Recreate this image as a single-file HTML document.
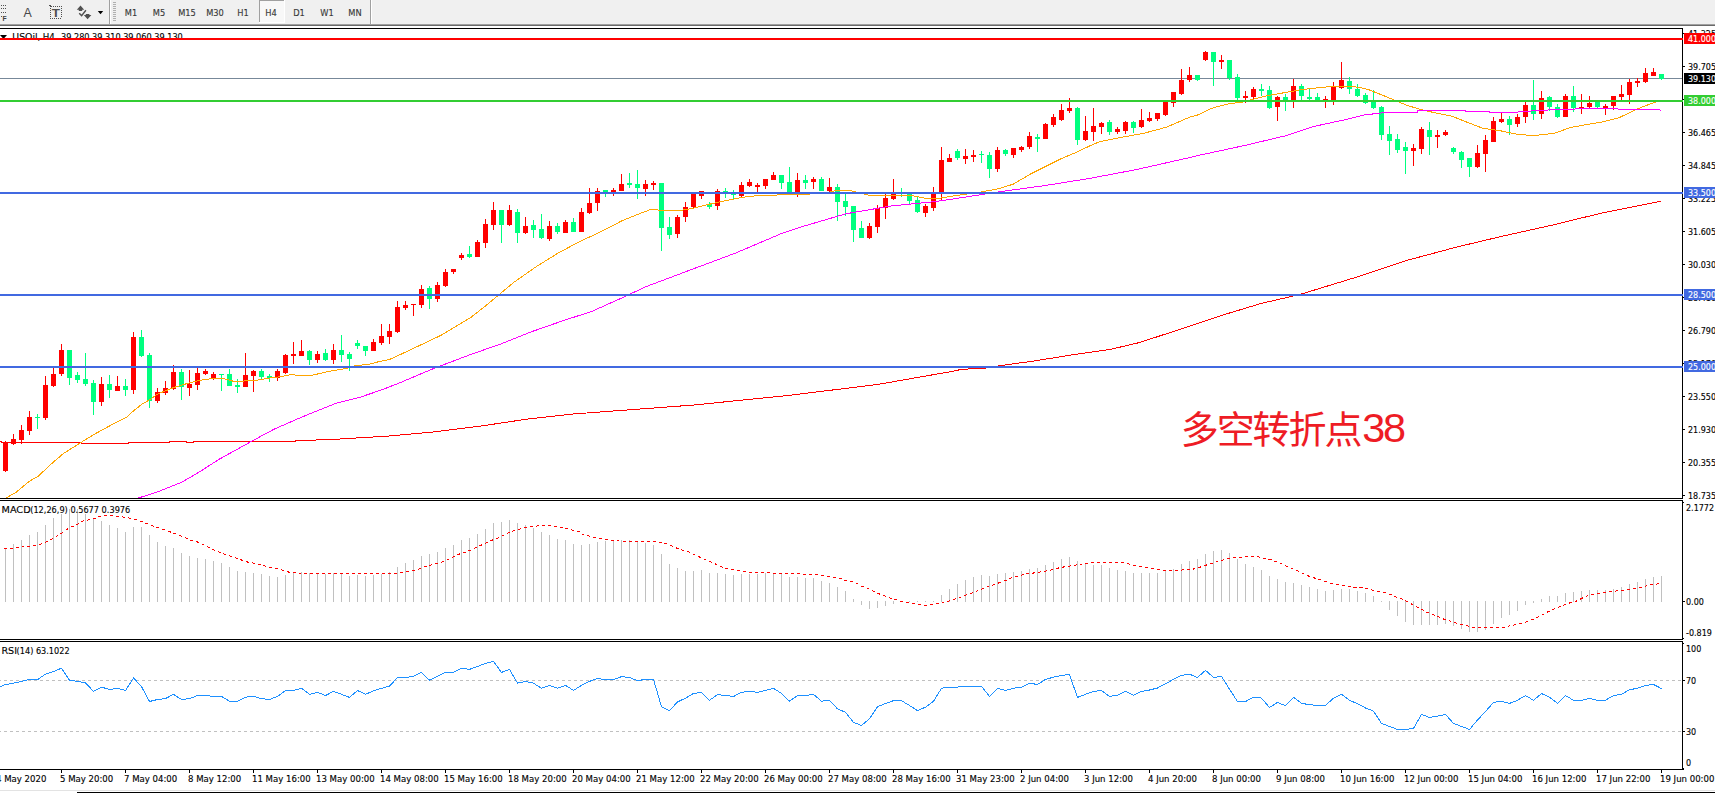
<!DOCTYPE html>
<html lang="zh">
<head>
<meta charset="utf-8">
<title>USOil H4</title>
<style>
html,body{margin:0;padding:0;background:#fff;}
body{width:1715px;height:793px;overflow:hidden;position:relative;font-family:"Liberation Sans","Noto Sans CJK SC",sans-serif;}
svg{position:absolute;left:0;top:0;display:block;}
svg text{font-family:"DejaVu Sans Condensed","DejaVu Sans","Liberation Sans",sans-serif;font-stretch:condensed;white-space:pre;}
</style>
</head>
<body>
<svg width="1715" height="793" viewBox="0 0 1715 793">
<rect x="0" y="0" width="1715" height="793" fill="#ffffff"/>
<g id="toolbar">
<rect x="0" y="0" width="1715" height="24" fill="#f0f0f0"/>
<rect x="0" y="24" width="1715" height="1" fill="#a0a0a0"/>
<rect x="0" y="25" width="1715" height="1" fill="#696969"/>
<rect x="1" y="5" width="1" height="1" fill="#505050"/>
<rect x="3" y="5" width="1" height="1" fill="#505050"/>
<rect x="5" y="5" width="1" height="1" fill="#505050"/>
<rect x="1" y="8" width="1" height="1" fill="#505050"/>
<rect x="3" y="8" width="1" height="1" fill="#505050"/>
<rect x="5" y="8" width="1" height="1" fill="#505050"/>
<rect x="1" y="12" width="1" height="1" fill="#505050"/>
<rect x="3" y="12" width="1" height="1" fill="#505050"/>
<rect x="5" y="12" width="1" height="1" fill="#505050"/>
<rect x="1" y="16" width="1" height="1" fill="#505050"/>
<text x="2.5" y="20.9" font-size="6.8" fill="#404040" text-anchor="start" font-weight="bold" style="font-family:'Liberation Sans',sans-serif">F</text>
<text x="23.4" y="16.8" font-size="12.4" fill="#484848" text-anchor="start" style="font-family:'Liberation Sans',sans-serif">A</text>
<rect x="53" y="6" width="1" height="1" fill="#505050"/>
<rect x="55" y="6" width="1" height="1" fill="#505050"/>
<rect x="57" y="6" width="1" height="1" fill="#505050"/>
<rect x="59" y="6" width="1" height="1" fill="#505050"/>
<rect x="61" y="6" width="1" height="1" fill="#505050"/>
<rect x="50" y="18" width="1" height="1" fill="#505050"/>
<rect x="52" y="18" width="1" height="1" fill="#505050"/>
<rect x="54" y="18" width="1" height="1" fill="#505050"/>
<rect x="56" y="18" width="1" height="1" fill="#505050"/>
<rect x="58" y="18" width="1" height="1" fill="#505050"/>
<rect x="60" y="18" width="1" height="1" fill="#505050"/>
<rect x="50" y="8" width="1" height="1" fill="#505050"/>
<rect x="61" y="8" width="1" height="1" fill="#505050"/>
<rect x="50" y="10" width="1" height="1" fill="#505050"/>
<rect x="61" y="10" width="1" height="1" fill="#505050"/>
<rect x="50" y="12" width="1" height="1" fill="#505050"/>
<rect x="61" y="12" width="1" height="1" fill="#505050"/>
<rect x="50" y="14" width="1" height="1" fill="#505050"/>
<rect x="61" y="14" width="1" height="1" fill="#505050"/>
<rect x="50" y="16" width="1" height="1" fill="#505050"/>
<rect x="61" y="16" width="1" height="1" fill="#505050"/>
<rect x="49" y="5" width="2" height="1" fill="#505050"/>
<rect x="50" y="6" width="2" height="1" fill="#505050"/>
<text transform="translate(51.8 17) scale(1.2 1)" font-size="11.2" fill="#505050" text-anchor="start" font-weight="bold" style="font-family:'Liberation Sans',sans-serif">T</text>
<path d="M80.5 5.6 L84.2 9.8 L82.2 9.8 L82.2 11 L78.8 11 L78.8 9.8 L76.8 9.8 Z" fill="#505050"/>
<path d="M87.6 19.2 L91.4 15 L89.4 15 L89.4 14 L85.8 14 L85.8 15 L83.8 15 Z" fill="#505050"/>
<path d="M79.2 13.3 L81.6 15.6 L85.9 10.2" fill="none" stroke="#505050" stroke-width="1.4"/>
<path d="M97.8 11 L103.2 11 L100.5 14.3 Z" fill="#000"/>
<rect x="109" y="0" width="1" height="24" fill="#a0a0a0"/>
<rect x="110" y="0" width="1" height="24" fill="#ffffff"/>
<rect x="113" y="2" width="3" height="1" fill="#b0b0b0"/>
<rect x="113" y="4" width="3" height="1" fill="#b0b0b0"/>
<rect x="113" y="6" width="3" height="1" fill="#b0b0b0"/>
<rect x="113" y="8" width="3" height="1" fill="#b0b0b0"/>
<rect x="113" y="10" width="3" height="1" fill="#b0b0b0"/>
<rect x="113" y="12" width="3" height="1" fill="#b0b0b0"/>
<rect x="113" y="14" width="3" height="1" fill="#b0b0b0"/>
<rect x="113" y="16" width="3" height="1" fill="#b0b0b0"/>
<rect x="113" y="18" width="3" height="1" fill="#b0b0b0"/>
<rect x="113" y="20" width="3" height="1" fill="#b0b0b0"/>
<rect x="259" y="0" width="25" height="22" fill="#f8f8f8"/>
<rect x="259" y="0" width="25" height="1" fill="#a0a0a0"/>
<rect x="259" y="0" width="1" height="22" fill="#a0a0a0"/>
<rect x="284" y="0" width="1" height="23" fill="#ffffff"/>
<rect x="259" y="22" width="26" height="1" fill="#ffffff"/>
<text x="131" y="16" font-size="9.2" fill="#383838" text-anchor="middle" stroke="#383838" stroke-width="0.12">M1</text>
<text x="159" y="16" font-size="9.2" fill="#383838" text-anchor="middle" stroke="#383838" stroke-width="0.12">M5</text>
<text x="187" y="16" font-size="9.2" fill="#383838" text-anchor="middle" stroke="#383838" stroke-width="0.12">M15</text>
<text x="215" y="16" font-size="9.2" fill="#383838" text-anchor="middle" stroke="#383838" stroke-width="0.12">M30</text>
<text x="243" y="16" font-size="9.2" fill="#383838" text-anchor="middle" stroke="#383838" stroke-width="0.12">H1</text>
<text x="271" y="16" font-size="9.2" fill="#383838" text-anchor="middle" stroke="#383838" stroke-width="0.12">H4</text>
<text x="299" y="16" font-size="9.2" fill="#383838" text-anchor="middle" stroke="#383838" stroke-width="0.12">D1</text>
<text x="327" y="16" font-size="9.2" fill="#383838" text-anchor="middle" stroke="#383838" stroke-width="0.12">W1</text>
<text x="355" y="16" font-size="9.2" fill="#383838" text-anchor="middle" stroke="#383838" stroke-width="0.12">MN</text>
<rect x="370" y="0" width="1" height="24" fill="#a0a0a0"/>
<rect x="371" y="0" width="1" height="24" fill="#ffffff"/>
</g>
<g id="frames" shape-rendering="crispEdges">
<rect x="0" y="28" width="1683" height="1" fill="#000"/>
<rect x="0" y="498" width="1683" height="1" fill="#000"/>
<rect x="0" y="500" width="1683" height="1" fill="#000"/>
<rect x="0" y="639" width="1683" height="1" fill="#000"/>
<rect x="0" y="641" width="1683" height="1" fill="#000"/>
<rect x="0" y="769" width="1684" height="1" fill="#000"/>
<rect x="1682" y="28" width="1" height="471" fill="#000"/>
<rect x="1682" y="500" width="1" height="140" fill="#000"/>
<rect x="1682" y="641" width="1" height="129" fill="#000"/>
</g>
<path d="M0 35 L7 35 L3.5 39 Z" fill="#000"/>
<text transform="translate(12.3 40) scale(1.13 1)" font-size="9.2" fill="#000" text-anchor="start" stroke="#000" stroke-width="0.12">USOil,</text>
<text transform="translate(42.7 40) scale(1.05 1)" font-size="9.2" fill="#000" text-anchor="start" stroke="#000" stroke-width="0.12">H4</text>
<text transform="translate(61 40) scale(0.985 1)" font-size="9.2" fill="#000" text-anchor="start" stroke="#000" stroke-width="0.12">39.280 39.310 39.060 39.130</text>
<g id="main" shape-rendering="crispEdges">
<rect x="0" y="78" width="1682" height="1" fill="#778899"/>
<rect x="5" y="441" width="1" height="31" fill="#ff0000"/>
<rect x="3" y="442" width="5" height="29" fill="#ff0000"/>
<rect x="13" y="434" width="1" height="11" fill="#ff0000"/>
<rect x="11" y="439" width="5" height="5" fill="#ff0000"/>
<rect x="21" y="425" width="1" height="19" fill="#ff0000"/>
<rect x="19" y="430" width="5" height="10" fill="#ff0000"/>
<rect x="29" y="411" width="1" height="24" fill="#ff0000"/>
<rect x="27" y="417" width="5" height="14" fill="#ff0000"/>
<rect x="37" y="414" width="1" height="15" fill="#00ff7f"/>
<rect x="35" y="417" width="5" height="1" fill="#00ff7f"/>
<rect x="45" y="376" width="1" height="44" fill="#ff0000"/>
<rect x="43" y="385" width="5" height="33" fill="#ff0000"/>
<rect x="53" y="368" width="1" height="19" fill="#ff0000"/>
<rect x="51" y="374" width="5" height="12" fill="#ff0000"/>
<rect x="61" y="344" width="1" height="32" fill="#ff0000"/>
<rect x="59" y="350" width="5" height="24" fill="#ff0000"/>
<rect x="69" y="350" width="1" height="35" fill="#00ff7f"/>
<rect x="67" y="350" width="5" height="28" fill="#00ff7f"/>
<rect x="77" y="372" width="1" height="11" fill="#00ff7f"/>
<rect x="75" y="375" width="5" height="5" fill="#00ff7f"/>
<rect x="85" y="353" width="1" height="33" fill="#00ff7f"/>
<rect x="83" y="379" width="5" height="5" fill="#00ff7f"/>
<rect x="93" y="380" width="1" height="35" fill="#00ff7f"/>
<rect x="91" y="383" width="5" height="19" fill="#00ff7f"/>
<rect x="101" y="377" width="1" height="29" fill="#ff0000"/>
<rect x="99" y="384" width="5" height="18" fill="#ff0000"/>
<rect x="109" y="375" width="1" height="23" fill="#00ff7f"/>
<rect x="107" y="384" width="5" height="6" fill="#00ff7f"/>
<rect x="117" y="376" width="1" height="15" fill="#ff0000"/>
<rect x="115" y="386" width="5" height="5" fill="#ff0000"/>
<rect x="125" y="379" width="1" height="17" fill="#00ff7f"/>
<rect x="123" y="386" width="5" height="4" fill="#00ff7f"/>
<rect x="133" y="332" width="1" height="62" fill="#ff0000"/>
<rect x="131" y="337" width="5" height="53" fill="#ff0000"/>
<rect x="141" y="330" width="1" height="27" fill="#00ff7f"/>
<rect x="139" y="337" width="5" height="19" fill="#00ff7f"/>
<rect x="149" y="353" width="1" height="55" fill="#00ff7f"/>
<rect x="147" y="355" width="5" height="46" fill="#00ff7f"/>
<rect x="157" y="388" width="1" height="15" fill="#ff0000"/>
<rect x="155" y="392" width="5" height="9" fill="#ff0000"/>
<rect x="165" y="381" width="1" height="14" fill="#ff0000"/>
<rect x="163" y="388" width="5" height="5" fill="#ff0000"/>
<rect x="173" y="365" width="1" height="25" fill="#ff0000"/>
<rect x="171" y="372" width="5" height="17" fill="#ff0000"/>
<rect x="181" y="369" width="1" height="31" fill="#00ff7f"/>
<rect x="179" y="372" width="5" height="15" fill="#00ff7f"/>
<rect x="189" y="370" width="1" height="26" fill="#ff0000"/>
<rect x="187" y="384" width="5" height="4" fill="#ff0000"/>
<rect x="197" y="368" width="1" height="22" fill="#ff0000"/>
<rect x="195" y="373" width="5" height="12" fill="#ff0000"/>
<rect x="205" y="369" width="1" height="6" fill="#ff0000"/>
<rect x="203" y="371" width="5" height="3" fill="#ff0000"/>
<rect x="213" y="372" width="1" height="8" fill="#ff0000"/>
<rect x="211" y="374" width="5" height="4" fill="#ff0000"/>
<rect x="221" y="374" width="1" height="17" fill="#00ff7f"/>
<rect x="219" y="374" width="5" height="1" fill="#00ff7f"/>
<rect x="229" y="369" width="1" height="17" fill="#00ff7f"/>
<rect x="227" y="374" width="5" height="12" fill="#00ff7f"/>
<rect x="237" y="379" width="1" height="14" fill="#00ff7f"/>
<rect x="235" y="385" width="5" height="2" fill="#00ff7f"/>
<rect x="245" y="353" width="1" height="34" fill="#ff0000"/>
<rect x="243" y="375" width="5" height="12" fill="#ff0000"/>
<rect x="253" y="370" width="1" height="22" fill="#ff0000"/>
<rect x="251" y="371" width="5" height="5" fill="#ff0000"/>
<rect x="261" y="369" width="1" height="10" fill="#00ff7f"/>
<rect x="259" y="371" width="5" height="6" fill="#00ff7f"/>
<rect x="269" y="374" width="1" height="8" fill="#00ff7f"/>
<rect x="267" y="376" width="5" height="2" fill="#00ff7f"/>
<rect x="277" y="369" width="1" height="12" fill="#ff0000"/>
<rect x="275" y="371" width="5" height="7" fill="#ff0000"/>
<rect x="285" y="354" width="1" height="20" fill="#ff0000"/>
<rect x="283" y="355" width="5" height="18" fill="#ff0000"/>
<rect x="293" y="342" width="1" height="22" fill="#ff0000"/>
<rect x="291" y="354" width="5" height="2" fill="#ff0000"/>
<rect x="301" y="340" width="1" height="16" fill="#ff0000"/>
<rect x="299" y="351" width="5" height="5" fill="#ff0000"/>
<rect x="309" y="350" width="1" height="15" fill="#00ff7f"/>
<rect x="307" y="351" width="5" height="9" fill="#00ff7f"/>
<rect x="317" y="351" width="1" height="12" fill="#ff0000"/>
<rect x="315" y="354" width="5" height="6" fill="#ff0000"/>
<rect x="325" y="349" width="1" height="12" fill="#00ff7f"/>
<rect x="323" y="353" width="5" height="7" fill="#00ff7f"/>
<rect x="333" y="344" width="1" height="20" fill="#ff0000"/>
<rect x="331" y="350" width="5" height="10" fill="#ff0000"/>
<rect x="341" y="335" width="1" height="27" fill="#00ff7f"/>
<rect x="339" y="350" width="5" height="5" fill="#00ff7f"/>
<rect x="349" y="352" width="1" height="19" fill="#00ff7f"/>
<rect x="347" y="354" width="5" height="5" fill="#00ff7f"/>
<rect x="357" y="340" width="1" height="9" fill="#00ff7f"/>
<rect x="355" y="343" width="5" height="3" fill="#00ff7f"/>
<rect x="365" y="346" width="1" height="10" fill="#00ff7f"/>
<rect x="363" y="346" width="5" height="5" fill="#00ff7f"/>
<rect x="373" y="339" width="1" height="12" fill="#ff0000"/>
<rect x="371" y="342" width="5" height="9" fill="#ff0000"/>
<rect x="381" y="324" width="1" height="21" fill="#ff0000"/>
<rect x="379" y="336" width="5" height="7" fill="#ff0000"/>
<rect x="389" y="324" width="1" height="20" fill="#ff0000"/>
<rect x="387" y="331" width="5" height="6" fill="#ff0000"/>
<rect x="397" y="301" width="1" height="32" fill="#ff0000"/>
<rect x="395" y="307" width="5" height="25" fill="#ff0000"/>
<rect x="405" y="301" width="1" height="9" fill="#ff0000"/>
<rect x="403" y="305" width="5" height="3" fill="#ff0000"/>
<rect x="413" y="304" width="1" height="12" fill="#ff0000"/>
<rect x="411" y="304" width="5" height="1" fill="#ff0000"/>
<rect x="421" y="285" width="1" height="23" fill="#ff0000"/>
<rect x="419" y="289" width="5" height="16" fill="#ff0000"/>
<rect x="429" y="286" width="1" height="23" fill="#00ff7f"/>
<rect x="427" y="288" width="5" height="11" fill="#00ff7f"/>
<rect x="437" y="282" width="1" height="20" fill="#ff0000"/>
<rect x="435" y="285" width="5" height="14" fill="#ff0000"/>
<rect x="445" y="269" width="1" height="18" fill="#ff0000"/>
<rect x="443" y="272" width="5" height="14" fill="#ff0000"/>
<rect x="453" y="269" width="1" height="5" fill="#ff0000"/>
<rect x="451" y="269" width="5" height="3" fill="#ff0000"/>
<rect x="461" y="253" width="1" height="7" fill="#ff0000"/>
<rect x="459" y="255" width="5" height="3" fill="#ff0000"/>
<rect x="469" y="246" width="1" height="12" fill="#00ff7f"/>
<rect x="467" y="254" width="5" height="3" fill="#00ff7f"/>
<rect x="477" y="240" width="1" height="17" fill="#ff0000"/>
<rect x="475" y="242" width="5" height="15" fill="#ff0000"/>
<rect x="485" y="219" width="1" height="29" fill="#ff0000"/>
<rect x="483" y="224" width="5" height="19" fill="#ff0000"/>
<rect x="493" y="202" width="1" height="28" fill="#ff0000"/>
<rect x="491" y="210" width="5" height="15" fill="#ff0000"/>
<rect x="501" y="210" width="1" height="33" fill="#00ff7f"/>
<rect x="499" y="210" width="5" height="15" fill="#00ff7f"/>
<rect x="509" y="205" width="1" height="21" fill="#ff0000"/>
<rect x="507" y="210" width="5" height="15" fill="#ff0000"/>
<rect x="517" y="209" width="1" height="34" fill="#00ff7f"/>
<rect x="515" y="212" width="5" height="21" fill="#00ff7f"/>
<rect x="525" y="217" width="1" height="17" fill="#ff0000"/>
<rect x="523" y="226" width="5" height="7" fill="#ff0000"/>
<rect x="533" y="220" width="1" height="18" fill="#00ff7f"/>
<rect x="531" y="225" width="5" height="5" fill="#00ff7f"/>
<rect x="541" y="214" width="1" height="25" fill="#00ff7f"/>
<rect x="539" y="229" width="5" height="9" fill="#00ff7f"/>
<rect x="549" y="221" width="1" height="20" fill="#ff0000"/>
<rect x="547" y="226" width="5" height="13" fill="#ff0000"/>
<rect x="557" y="223" width="1" height="11" fill="#00ff7f"/>
<rect x="555" y="226" width="5" height="6" fill="#00ff7f"/>
<rect x="565" y="220" width="1" height="13" fill="#ff0000"/>
<rect x="563" y="222" width="5" height="11" fill="#ff0000"/>
<rect x="573" y="218" width="1" height="14" fill="#00ff7f"/>
<rect x="571" y="222" width="5" height="10" fill="#00ff7f"/>
<rect x="581" y="208" width="1" height="24" fill="#ff0000"/>
<rect x="579" y="212" width="5" height="20" fill="#ff0000"/>
<rect x="589" y="188" width="1" height="26" fill="#ff0000"/>
<rect x="587" y="203" width="5" height="10" fill="#ff0000"/>
<rect x="597" y="188" width="1" height="23" fill="#ff0000"/>
<rect x="595" y="191" width="5" height="12" fill="#ff0000"/>
<rect x="605" y="190" width="1" height="7" fill="#00ff7f"/>
<rect x="603" y="190" width="5" height="3" fill="#00ff7f"/>
<rect x="613" y="188" width="1" height="8" fill="#ff0000"/>
<rect x="611" y="190" width="5" height="3" fill="#ff0000"/>
<rect x="621" y="174" width="1" height="17" fill="#ff0000"/>
<rect x="619" y="184" width="5" height="7" fill="#ff0000"/>
<rect x="629" y="173" width="1" height="15" fill="#00ff7f"/>
<rect x="627" y="183" width="5" height="2" fill="#00ff7f"/>
<rect x="637" y="170" width="1" height="29" fill="#00ff7f"/>
<rect x="635" y="184" width="5" height="4" fill="#00ff7f"/>
<rect x="645" y="180" width="1" height="16" fill="#ff0000"/>
<rect x="643" y="184" width="5" height="5" fill="#ff0000"/>
<rect x="653" y="181" width="1" height="9" fill="#ff0000"/>
<rect x="651" y="183" width="5" height="2" fill="#ff0000"/>
<rect x="661" y="183" width="1" height="68" fill="#00ff7f"/>
<rect x="659" y="183" width="5" height="45" fill="#00ff7f"/>
<rect x="669" y="217" width="1" height="22" fill="#00ff7f"/>
<rect x="667" y="227" width="5" height="8" fill="#00ff7f"/>
<rect x="677" y="215" width="1" height="23" fill="#ff0000"/>
<rect x="675" y="217" width="5" height="17" fill="#ff0000"/>
<rect x="685" y="202" width="1" height="20" fill="#ff0000"/>
<rect x="683" y="207" width="5" height="10" fill="#ff0000"/>
<rect x="693" y="193" width="1" height="16" fill="#ff0000"/>
<rect x="691" y="193" width="5" height="14" fill="#ff0000"/>
<rect x="701" y="191" width="1" height="8" fill="#ff0000"/>
<rect x="699" y="191" width="5" height="5" fill="#ff0000"/>
<rect x="709" y="202" width="1" height="7" fill="#00ff7f"/>
<rect x="707" y="204" width="5" height="3" fill="#00ff7f"/>
<rect x="717" y="189" width="1" height="21" fill="#ff0000"/>
<rect x="715" y="191" width="5" height="15" fill="#ff0000"/>
<rect x="725" y="188" width="1" height="10" fill="#00ff7f"/>
<rect x="723" y="191" width="5" height="2" fill="#00ff7f"/>
<rect x="733" y="190" width="1" height="9" fill="#00ff7f"/>
<rect x="731" y="193" width="5" height="2" fill="#00ff7f"/>
<rect x="741" y="182" width="1" height="15" fill="#ff0000"/>
<rect x="739" y="185" width="5" height="11" fill="#ff0000"/>
<rect x="749" y="179" width="1" height="8" fill="#ff0000"/>
<rect x="747" y="182" width="5" height="4" fill="#ff0000"/>
<rect x="757" y="183" width="1" height="9" fill="#ff0000"/>
<rect x="755" y="185" width="5" height="2" fill="#ff0000"/>
<rect x="765" y="179" width="1" height="10" fill="#ff0000"/>
<rect x="763" y="179" width="5" height="7" fill="#ff0000"/>
<rect x="773" y="172" width="1" height="8" fill="#ff0000"/>
<rect x="771" y="175" width="5" height="5" fill="#ff0000"/>
<rect x="781" y="175" width="1" height="14" fill="#00ff7f"/>
<rect x="779" y="175" width="5" height="8" fill="#00ff7f"/>
<rect x="789" y="167" width="1" height="26" fill="#00ff7f"/>
<rect x="787" y="182" width="5" height="11" fill="#00ff7f"/>
<rect x="797" y="173" width="1" height="24" fill="#ff0000"/>
<rect x="795" y="180" width="5" height="13" fill="#ff0000"/>
<rect x="805" y="175" width="1" height="14" fill="#00ff7f"/>
<rect x="803" y="180" width="5" height="3" fill="#00ff7f"/>
<rect x="813" y="177" width="1" height="12" fill="#ff0000"/>
<rect x="811" y="179" width="5" height="3" fill="#ff0000"/>
<rect x="821" y="177" width="1" height="14" fill="#00ff7f"/>
<rect x="819" y="179" width="5" height="12" fill="#00ff7f"/>
<rect x="829" y="178" width="1" height="14" fill="#ff0000"/>
<rect x="827" y="187" width="5" height="4" fill="#ff0000"/>
<rect x="837" y="184" width="1" height="37" fill="#00ff7f"/>
<rect x="835" y="187" width="5" height="15" fill="#00ff7f"/>
<rect x="845" y="194" width="1" height="22" fill="#00ff7f"/>
<rect x="843" y="201" width="5" height="6" fill="#00ff7f"/>
<rect x="853" y="206" width="1" height="36" fill="#00ff7f"/>
<rect x="851" y="206" width="5" height="24" fill="#00ff7f"/>
<rect x="861" y="221" width="1" height="17" fill="#00ff7f"/>
<rect x="859" y="228" width="5" height="10" fill="#00ff7f"/>
<rect x="869" y="223" width="1" height="16" fill="#ff0000"/>
<rect x="867" y="226" width="5" height="12" fill="#ff0000"/>
<rect x="877" y="205" width="1" height="28" fill="#ff0000"/>
<rect x="875" y="208" width="5" height="19" fill="#ff0000"/>
<rect x="885" y="194" width="1" height="25" fill="#ff0000"/>
<rect x="883" y="198" width="5" height="10" fill="#ff0000"/>
<rect x="893" y="179" width="1" height="21" fill="#ff0000"/>
<rect x="891" y="193" width="5" height="6" fill="#ff0000"/>
<rect x="901" y="188" width="1" height="9" fill="#00ff7f"/>
<rect x="899" y="193" width="5" height="1" fill="#00ff7f"/>
<rect x="909" y="194" width="1" height="10" fill="#00ff7f"/>
<rect x="907" y="194" width="5" height="7" fill="#00ff7f"/>
<rect x="917" y="196" width="1" height="17" fill="#00ff7f"/>
<rect x="915" y="200" width="5" height="12" fill="#00ff7f"/>
<rect x="925" y="204" width="1" height="13" fill="#ff0000"/>
<rect x="923" y="206" width="5" height="7" fill="#ff0000"/>
<rect x="933" y="187" width="1" height="24" fill="#ff0000"/>
<rect x="931" y="193" width="5" height="15" fill="#ff0000"/>
<rect x="941" y="147" width="1" height="54" fill="#ff0000"/>
<rect x="939" y="160" width="5" height="34" fill="#ff0000"/>
<rect x="949" y="154" width="1" height="8" fill="#ff0000"/>
<rect x="947" y="158" width="5" height="4" fill="#ff0000"/>
<rect x="957" y="149" width="1" height="11" fill="#00ff7f"/>
<rect x="955" y="151" width="5" height="7" fill="#00ff7f"/>
<rect x="965" y="149" width="1" height="15" fill="#ff0000"/>
<rect x="963" y="156" width="5" height="3" fill="#ff0000"/>
<rect x="973" y="150" width="1" height="12" fill="#ff0000"/>
<rect x="971" y="155" width="5" height="2" fill="#ff0000"/>
<rect x="981" y="151" width="1" height="12" fill="#00ff7f"/>
<rect x="979" y="154" width="5" height="1" fill="#00ff7f"/>
<rect x="989" y="152" width="1" height="26" fill="#00ff7f"/>
<rect x="987" y="155" width="5" height="14" fill="#00ff7f"/>
<rect x="997" y="147" width="1" height="25" fill="#ff0000"/>
<rect x="995" y="150" width="5" height="19" fill="#ff0000"/>
<rect x="1005" y="149" width="1" height="7" fill="#00ff7f"/>
<rect x="1003" y="150" width="5" height="4" fill="#00ff7f"/>
<rect x="1013" y="148" width="1" height="10" fill="#ff0000"/>
<rect x="1011" y="148" width="5" height="7" fill="#ff0000"/>
<rect x="1021" y="146" width="1" height="6" fill="#ff0000"/>
<rect x="1019" y="147" width="5" height="3" fill="#ff0000"/>
<rect x="1029" y="132" width="1" height="17" fill="#ff0000"/>
<rect x="1027" y="136" width="5" height="11" fill="#ff0000"/>
<rect x="1037" y="134" width="1" height="18" fill="#00ff7f"/>
<rect x="1035" y="137" width="5" height="2" fill="#00ff7f"/>
<rect x="1045" y="123" width="1" height="16" fill="#ff0000"/>
<rect x="1043" y="124" width="5" height="15" fill="#ff0000"/>
<rect x="1053" y="114" width="1" height="13" fill="#ff0000"/>
<rect x="1051" y="117" width="5" height="8" fill="#ff0000"/>
<rect x="1061" y="104" width="1" height="17" fill="#ff0000"/>
<rect x="1059" y="110" width="5" height="10" fill="#ff0000"/>
<rect x="1069" y="98" width="1" height="15" fill="#ff0000"/>
<rect x="1067" y="108" width="5" height="3" fill="#ff0000"/>
<rect x="1077" y="107" width="1" height="38" fill="#00ff7f"/>
<rect x="1075" y="108" width="5" height="32" fill="#00ff7f"/>
<rect x="1085" y="116" width="1" height="25" fill="#ff0000"/>
<rect x="1083" y="131" width="5" height="9" fill="#ff0000"/>
<rect x="1093" y="108" width="1" height="33" fill="#ff0000"/>
<rect x="1091" y="126" width="5" height="6" fill="#ff0000"/>
<rect x="1101" y="122" width="1" height="12" fill="#ff0000"/>
<rect x="1099" y="123" width="5" height="4" fill="#ff0000"/>
<rect x="1109" y="120" width="1" height="15" fill="#00ff7f"/>
<rect x="1107" y="122" width="5" height="10" fill="#00ff7f"/>
<rect x="1117" y="127" width="1" height="7" fill="#ff0000"/>
<rect x="1115" y="129" width="5" height="3" fill="#ff0000"/>
<rect x="1125" y="121" width="1" height="13" fill="#ff0000"/>
<rect x="1123" y="122" width="5" height="9" fill="#ff0000"/>
<rect x="1133" y="121" width="1" height="12" fill="#00ff7f"/>
<rect x="1131" y="122" width="5" height="6" fill="#00ff7f"/>
<rect x="1141" y="109" width="1" height="19" fill="#ff0000"/>
<rect x="1139" y="120" width="5" height="7" fill="#ff0000"/>
<rect x="1149" y="112" width="1" height="10" fill="#ff0000"/>
<rect x="1147" y="118" width="5" height="3" fill="#ff0000"/>
<rect x="1157" y="113" width="1" height="8" fill="#ff0000"/>
<rect x="1155" y="113" width="5" height="6" fill="#ff0000"/>
<rect x="1165" y="102" width="1" height="14" fill="#ff0000"/>
<rect x="1163" y="102" width="5" height="13" fill="#ff0000"/>
<rect x="1173" y="92" width="1" height="15" fill="#ff0000"/>
<rect x="1171" y="92" width="5" height="11" fill="#ff0000"/>
<rect x="1181" y="69" width="1" height="26" fill="#ff0000"/>
<rect x="1179" y="80" width="5" height="14" fill="#ff0000"/>
<rect x="1189" y="67" width="1" height="15" fill="#ff0000"/>
<rect x="1187" y="75" width="5" height="5" fill="#ff0000"/>
<rect x="1197" y="75" width="1" height="6" fill="#00ff7f"/>
<rect x="1195" y="75" width="5" height="5" fill="#00ff7f"/>
<rect x="1205" y="51" width="1" height="10" fill="#ff0000"/>
<rect x="1203" y="52" width="5" height="8" fill="#ff0000"/>
<rect x="1213" y="52" width="1" height="34" fill="#00ff7f"/>
<rect x="1211" y="52" width="5" height="10" fill="#00ff7f"/>
<rect x="1221" y="55" width="1" height="14" fill="#ff0000"/>
<rect x="1219" y="60" width="5" height="2" fill="#ff0000"/>
<rect x="1229" y="60" width="1" height="20" fill="#00ff7f"/>
<rect x="1227" y="60" width="5" height="18" fill="#00ff7f"/>
<rect x="1237" y="74" width="1" height="26" fill="#00ff7f"/>
<rect x="1235" y="77" width="5" height="21" fill="#00ff7f"/>
<rect x="1245" y="91" width="1" height="12" fill="#ff0000"/>
<rect x="1243" y="96" width="5" height="2" fill="#ff0000"/>
<rect x="1253" y="87" width="1" height="12" fill="#ff0000"/>
<rect x="1251" y="89" width="5" height="8" fill="#ff0000"/>
<rect x="1261" y="84" width="1" height="12" fill="#00ff7f"/>
<rect x="1259" y="89" width="5" height="2" fill="#00ff7f"/>
<rect x="1269" y="86" width="1" height="23" fill="#00ff7f"/>
<rect x="1267" y="90" width="5" height="18" fill="#00ff7f"/>
<rect x="1277" y="96" width="1" height="25" fill="#ff0000"/>
<rect x="1275" y="97" width="5" height="10" fill="#ff0000"/>
<rect x="1285" y="94" width="1" height="17" fill="#00ff7f"/>
<rect x="1283" y="97" width="5" height="4" fill="#00ff7f"/>
<rect x="1293" y="79" width="1" height="29" fill="#ff0000"/>
<rect x="1291" y="86" width="5" height="14" fill="#ff0000"/>
<rect x="1301" y="84" width="1" height="17" fill="#00ff7f"/>
<rect x="1299" y="86" width="5" height="10" fill="#00ff7f"/>
<rect x="1309" y="89" width="1" height="12" fill="#00ff7f"/>
<rect x="1307" y="97" width="5" height="2" fill="#00ff7f"/>
<rect x="1317" y="93" width="1" height="8" fill="#00ff7f"/>
<rect x="1315" y="97" width="5" height="3" fill="#00ff7f"/>
<rect x="1325" y="96" width="1" height="12" fill="#ff0000"/>
<rect x="1323" y="99" width="5" height="1" fill="#ff0000"/>
<rect x="1333" y="82" width="1" height="23" fill="#ff0000"/>
<rect x="1331" y="87" width="5" height="13" fill="#ff0000"/>
<rect x="1341" y="62" width="1" height="27" fill="#ff0000"/>
<rect x="1339" y="80" width="5" height="8" fill="#ff0000"/>
<rect x="1349" y="77" width="1" height="17" fill="#00ff7f"/>
<rect x="1347" y="81" width="5" height="8" fill="#00ff7f"/>
<rect x="1357" y="84" width="1" height="13" fill="#00ff7f"/>
<rect x="1355" y="89" width="5" height="7" fill="#00ff7f"/>
<rect x="1365" y="93" width="1" height="11" fill="#00ff7f"/>
<rect x="1363" y="95" width="5" height="8" fill="#00ff7f"/>
<rect x="1373" y="90" width="1" height="19" fill="#00ff7f"/>
<rect x="1371" y="102" width="5" height="6" fill="#00ff7f"/>
<rect x="1381" y="106" width="1" height="34" fill="#00ff7f"/>
<rect x="1379" y="107" width="5" height="28" fill="#00ff7f"/>
<rect x="1389" y="126" width="1" height="29" fill="#00ff7f"/>
<rect x="1387" y="134" width="5" height="7" fill="#00ff7f"/>
<rect x="1397" y="134" width="1" height="19" fill="#00ff7f"/>
<rect x="1395" y="139" width="5" height="11" fill="#00ff7f"/>
<rect x="1405" y="142" width="1" height="32" fill="#00ff7f"/>
<rect x="1403" y="147" width="5" height="4" fill="#00ff7f"/>
<rect x="1413" y="144" width="1" height="22" fill="#ff0000"/>
<rect x="1411" y="148" width="5" height="3" fill="#ff0000"/>
<rect x="1421" y="127" width="1" height="27" fill="#ff0000"/>
<rect x="1419" y="129" width="5" height="20" fill="#ff0000"/>
<rect x="1429" y="122" width="1" height="33" fill="#00ff7f"/>
<rect x="1427" y="130" width="5" height="7" fill="#00ff7f"/>
<rect x="1437" y="130" width="1" height="18" fill="#ff0000"/>
<rect x="1435" y="135" width="5" height="2" fill="#ff0000"/>
<rect x="1445" y="130" width="1" height="6" fill="#ff0000"/>
<rect x="1443" y="132" width="5" height="3" fill="#ff0000"/>
<rect x="1453" y="147" width="1" height="7" fill="#00ff7f"/>
<rect x="1451" y="148" width="5" height="4" fill="#00ff7f"/>
<rect x="1461" y="151" width="1" height="17" fill="#00ff7f"/>
<rect x="1459" y="152" width="5" height="8" fill="#00ff7f"/>
<rect x="1469" y="158" width="1" height="19" fill="#00ff7f"/>
<rect x="1467" y="158" width="5" height="9" fill="#00ff7f"/>
<rect x="1477" y="145" width="1" height="23" fill="#ff0000"/>
<rect x="1475" y="153" width="5" height="14" fill="#ff0000"/>
<rect x="1485" y="135" width="1" height="37" fill="#ff0000"/>
<rect x="1483" y="140" width="5" height="14" fill="#ff0000"/>
<rect x="1493" y="117" width="1" height="25" fill="#ff0000"/>
<rect x="1491" y="121" width="5" height="21" fill="#ff0000"/>
<rect x="1501" y="113" width="1" height="10" fill="#ff0000"/>
<rect x="1499" y="119" width="5" height="3" fill="#ff0000"/>
<rect x="1509" y="116" width="1" height="19" fill="#00ff7f"/>
<rect x="1507" y="119" width="5" height="6" fill="#00ff7f"/>
<rect x="1517" y="114" width="1" height="13" fill="#ff0000"/>
<rect x="1515" y="117" width="5" height="7" fill="#ff0000"/>
<rect x="1525" y="102" width="1" height="21" fill="#ff0000"/>
<rect x="1523" y="105" width="5" height="12" fill="#ff0000"/>
<rect x="1533" y="80" width="1" height="40" fill="#00ff7f"/>
<rect x="1531" y="105" width="5" height="9" fill="#00ff7f"/>
<rect x="1541" y="91" width="1" height="28" fill="#ff0000"/>
<rect x="1539" y="98" width="5" height="16" fill="#ff0000"/>
<rect x="1549" y="96" width="1" height="15" fill="#00ff7f"/>
<rect x="1547" y="97" width="5" height="10" fill="#00ff7f"/>
<rect x="1557" y="104" width="1" height="14" fill="#00ff7f"/>
<rect x="1555" y="107" width="5" height="10" fill="#00ff7f"/>
<rect x="1565" y="94" width="1" height="23" fill="#ff0000"/>
<rect x="1563" y="96" width="5" height="21" fill="#ff0000"/>
<rect x="1573" y="86" width="1" height="26" fill="#00ff7f"/>
<rect x="1571" y="96" width="5" height="12" fill="#00ff7f"/>
<rect x="1581" y="94" width="1" height="20" fill="#ff0000"/>
<rect x="1579" y="107" width="5" height="1" fill="#ff0000"/>
<rect x="1589" y="96" width="1" height="12" fill="#ff0000"/>
<rect x="1587" y="103" width="5" height="4" fill="#ff0000"/>
<rect x="1597" y="101" width="1" height="7" fill="#00ff7f"/>
<rect x="1595" y="102" width="5" height="5" fill="#00ff7f"/>
<rect x="1605" y="104" width="1" height="11" fill="#ff0000"/>
<rect x="1603" y="106" width="5" height="2" fill="#ff0000"/>
<rect x="1613" y="96" width="1" height="14" fill="#ff0000"/>
<rect x="1611" y="96" width="5" height="10" fill="#ff0000"/>
<rect x="1621" y="85" width="1" height="15" fill="#ff0000"/>
<rect x="1619" y="94" width="5" height="3" fill="#ff0000"/>
<rect x="1629" y="79" width="1" height="25" fill="#ff0000"/>
<rect x="1627" y="82" width="5" height="13" fill="#ff0000"/>
<rect x="1637" y="78" width="1" height="9" fill="#ff0000"/>
<rect x="1635" y="81" width="5" height="2" fill="#ff0000"/>
<rect x="1645" y="68" width="1" height="15" fill="#ff0000"/>
<rect x="1643" y="73" width="5" height="9" fill="#ff0000"/>
<rect x="1653" y="68" width="1" height="8" fill="#ff0000"/>
<rect x="1651" y="72" width="5" height="4" fill="#ff0000"/>
<rect x="1661" y="74" width="1" height="6" fill="#00ff7f"/>
<rect x="1659" y="74" width="5" height="5" fill="#00ff7f"/>
<polyline points="0.0,441.5 1.5,441.5 2.0,442.5 81.5,442.5 82.0,443.5 128.5,443.5 129.0,442.5 169.0,442.5 169.5,441.5 186.0,441.5 186.5,442.5 193.0,442.5 193.5,441.5 295.0,441.5 296.0,440.5 328.3,439.7 386.6,436.2 433.2,432.0 479.9,426.2 526.5,419.2 573.2,414.0 600.0,412.0 692.7,405.1 785.4,395.8 878.1,384.4 954.3,371.0 961.6,369.3 984.5,368.3 1000.8,365.6 1035.9,360.7 1079.0,353.8 1110.0,349.5 1139.7,342.5 1180.0,329.3 1222.0,315.3 1260.6,303.6 1299.8,294.5 1358.6,276.5 1407.6,260.2 1456.5,247.1 1501.5,236.4 1552.2,225.1 1602.9,212.8 1661.0,201.3" fill="none" stroke="#ff0000" stroke-width="1"/>
<polyline points="6.3,497.8 15.8,492.5 30.0,480.8 37.8,476.5 52.0,463.3 63.1,453.8 82.0,441.8 94.6,434.1 110.4,425.5 126.1,417.6 134.0,410.5 141.9,404.2 151.4,398.7 157.7,394.0 173.5,387.6 189.2,382.9 200.0,380.4 211.7,378.5 223.3,378.5 235.0,381.7 240.2,381.7 246.6,380.6 258.3,380.0 270.0,378.0 281.6,376.5 292.1,374.5 299.1,375.7 309.6,375.7 316.6,374.2 328.3,371.5 345.8,368.6 355.1,365.7 369.1,364.3 380.0,361.3 389.1,359.7 410.3,349.9 440.6,335.5 471.0,317.3 486.3,305.3 499.9,293.9 513.5,282.6 536.2,266.7 558.9,252.6 581.6,240.6 600.0,232.2 622.7,220.4 640.0,213.5 651.0,209.4 657.0,209.4 659.0,210.6 680.0,210.6 693.0,208.2 719.0,202.0 737.0,198.4 750.0,196.2 770.0,195.2 800.0,194.4 822.7,193.5 836.3,190.6 850.0,190.6 868.1,195.1 890.8,195.8 909.0,195.1 927.1,198.7 936.2,198.7 954.4,195.8 981.6,191.9 1000.0,188.4 1013.6,184.0 1030.3,174.1 1045.5,166.5 1060.6,158.9 1075.8,152.6 1091.0,145.3 1100.0,141.5 1121.3,137.4 1144.0,133.2 1166.8,127.1 1189.5,117.2 1197.1,115.2 1212.3,108.1 1227.4,104.1 1242.6,102.0 1255.2,98.6 1270.3,95.1 1285.5,92.5 1300.6,89.8 1315.8,88.0 1331.0,86.5 1346.1,86.3 1358.3,87.2 1368.9,89.8 1376.5,92.8 1391.6,98.9 1406.8,105.3 1421.9,109.8 1437.1,113.3 1452.3,116.3 1467.4,122.4 1482.6,128.2 1500.0,130.7 1518.0,134.4 1533.9,135.6 1554.4,133.3 1570.3,127.6 1588.4,124.2 1600.0,122.4 1619.1,117.7 1637.7,108.8 1654.9,102.2 1661.0,100.0" fill="none" stroke="#ffa500" stroke-width="1"/>
<polyline points="138.5,498.0 158.9,491.4 181.6,482.3 200.0,471.6 218.7,459.5 252.5,440.8 273.8,429.3 302.2,416.9 336.2,403.2 358.9,397.6 381.6,389.9 400.0,382.7 434.6,368.1 471.0,354.4 501.3,343.8 531.6,331.7 561.9,321.1 592.3,311.2 622.6,297.6 645.4,286.9 690.8,269.8 736.2,252.8 781.6,233.5 800.0,227.3 845.4,213.9 890.8,206.0 936.2,201.5 981.6,194.6 1000.0,191.7 1045.4,185.5 1090.8,178.2 1136.2,169.6 1181.6,159.4 1200.0,155.1 1245.4,145.3 1286.3,135.6 1313.5,126.5 1347.6,119.2 1363.5,115.1 1381.6,112.9 1417.0,112.9 1417.8,110.9 1465.5,110.9 1466.3,111.7 1489.0,111.7 1490.0,112.6 1513.5,112.4 1536.2,110.6 1558.9,109.5 1581.6,108.8 1617.8,108.4 1618.2,109.5 1658.0,109.5 1661.0,110.4" fill="none" stroke="#ff00ff" stroke-width="1"/>
<rect x="0" y="38" width="1683" height="2" fill="#ff0000"/>
<rect x="0" y="100" width="1683" height="2" fill="#32cd32"/>
<rect x="0" y="192" width="1683" height="2" fill="#4169e1"/>
<rect x="0" y="294" width="1683" height="2" fill="#4169e1"/>
<rect x="0" y="366" width="1683" height="2" fill="#4169e1"/>
</g>
<g id="paxis" shape-rendering="crispEdges">
<rect x="1683" y="33" width="2" height="1" fill="#000"/>
<rect x="1683" y="66" width="2" height="1" fill="#000"/>
<rect x="1683" y="99" width="2" height="1" fill="#000"/>
<rect x="1683" y="132" width="2" height="1" fill="#000"/>
<rect x="1683" y="165" width="2" height="1" fill="#000"/>
<rect x="1683" y="198" width="2" height="1" fill="#000"/>
<rect x="1683" y="231" width="2" height="1" fill="#000"/>
<rect x="1683" y="264" width="2" height="1" fill="#000"/>
<rect x="1683" y="297" width="2" height="1" fill="#000"/>
<rect x="1683" y="330" width="2" height="1" fill="#000"/>
<rect x="1683" y="363" width="2" height="1" fill="#000"/>
<rect x="1683" y="396" width="2" height="1" fill="#000"/>
<rect x="1683" y="429" width="2" height="1" fill="#000"/>
<rect x="1683" y="462" width="2" height="1" fill="#000"/>
<rect x="1683" y="495" width="2" height="1" fill="#000"/>
</g>
<text transform="translate(1688 37) scale(0.97 1)" font-size="9.2" fill="#000" text-anchor="start" stroke="#000" stroke-width="0.12">41.325</text>
<text transform="translate(1688 70) scale(0.97 1)" font-size="9.2" fill="#000" text-anchor="start" stroke="#000" stroke-width="0.12">39.705</text>
<text transform="translate(1688 103) scale(0.97 1)" font-size="9.2" fill="#000" text-anchor="start" stroke="#000" stroke-width="0.12">38.085</text>
<text transform="translate(1688 136) scale(0.97 1)" font-size="9.2" fill="#000" text-anchor="start" stroke="#000" stroke-width="0.12">36.465</text>
<text transform="translate(1688 169) scale(0.97 1)" font-size="9.2" fill="#000" text-anchor="start" stroke="#000" stroke-width="0.12">34.845</text>
<text transform="translate(1688 202) scale(0.97 1)" font-size="9.2" fill="#000" text-anchor="start" stroke="#000" stroke-width="0.12">33.225</text>
<text transform="translate(1688 235) scale(0.97 1)" font-size="9.2" fill="#000" text-anchor="start" stroke="#000" stroke-width="0.12">31.605</text>
<text transform="translate(1688 268) scale(0.97 1)" font-size="9.2" fill="#000" text-anchor="start" stroke="#000" stroke-width="0.12">30.030</text>
<text transform="translate(1688 301) scale(0.97 1)" font-size="9.2" fill="#000" text-anchor="start" stroke="#000" stroke-width="0.12">28.410</text>
<text transform="translate(1688 334) scale(0.97 1)" font-size="9.2" fill="#000" text-anchor="start" stroke="#000" stroke-width="0.12">26.790</text>
<text transform="translate(1688 367) scale(0.97 1)" font-size="9.2" fill="#000" text-anchor="start" stroke="#000" stroke-width="0.12">25.170</text>
<text transform="translate(1688 400) scale(0.97 1)" font-size="9.2" fill="#000" text-anchor="start" stroke="#000" stroke-width="0.12">23.550</text>
<text transform="translate(1688 433) scale(0.97 1)" font-size="9.2" fill="#000" text-anchor="start" stroke="#000" stroke-width="0.12">21.930</text>
<text transform="translate(1688 466) scale(0.97 1)" font-size="9.2" fill="#000" text-anchor="start" stroke="#000" stroke-width="0.12">20.355</text>
<text transform="translate(1688 499) scale(0.97 1)" font-size="9.2" fill="#000" text-anchor="start" stroke="#000" stroke-width="0.12">18.735</text>
<rect x="1684" y="33" width="31" height="11" fill="#ff0000" shape-rendering="crispEdges"/>
<text transform="translate(1688 42) scale(0.97 1)" font-size="9.2" fill="#fff" text-anchor="start" stroke="#fff" stroke-width="0.12">41.000</text>
<rect x="1684" y="73" width="31" height="11" fill="#000" shape-rendering="crispEdges"/>
<text transform="translate(1688 82) scale(0.97 1)" font-size="9.2" fill="#fff" text-anchor="start" stroke="#fff" stroke-width="0.12">39.130</text>
<rect x="1684" y="95" width="31" height="11" fill="#32cd32" shape-rendering="crispEdges"/>
<text transform="translate(1688 104) scale(0.97 1)" font-size="9.2" fill="#fff" text-anchor="start" stroke="#fff" stroke-width="0.12">38.000</text>
<rect x="1684" y="187" width="31" height="11" fill="#4169e1" shape-rendering="crispEdges"/>
<text transform="translate(1688 196) scale(0.97 1)" font-size="9.2" fill="#fff" text-anchor="start" stroke="#fff" stroke-width="0.12">33.500</text>
<rect x="1684" y="289" width="31" height="11" fill="#4169e1" shape-rendering="crispEdges"/>
<text transform="translate(1688 298) scale(0.97 1)" font-size="9.2" fill="#fff" text-anchor="start" stroke="#fff" stroke-width="0.12">28.500</text>
<rect x="1684" y="361" width="31" height="11" fill="#4169e1" shape-rendering="crispEdges"/>
<text transform="translate(1688 370) scale(0.97 1)" font-size="9.2" fill="#fff" text-anchor="start" stroke="#fff" stroke-width="0.12">25.000</text>
<text x="1180.8" y="442.7" font-size="38" fill="#ee1c25" font-weight="400" letter-spacing="-2.1" style="font-family:'Liberation Sans','Noto Sans CJK SC',sans-serif">多空转折点</text>
<text x="1362.2" y="442" font-size="41.4" fill="#ee1c25" letter-spacing="-2.3" style="font-family:'Liberation Sans','Noto Sans CJK SC',sans-serif">38</text>
<g id="macd" shape-rendering="crispEdges">
<rect x="5" y="548" width="1" height="54" fill="#c0c0c0"/>
<rect x="13" y="544" width="1" height="58" fill="#c0c0c0"/>
<rect x="21" y="540" width="1" height="62" fill="#c0c0c0"/>
<rect x="29" y="535" width="1" height="67" fill="#c0c0c0"/>
<rect x="37" y="532" width="1" height="70" fill="#c0c0c0"/>
<rect x="45" y="525" width="1" height="77" fill="#c0c0c0"/>
<rect x="53" y="518" width="1" height="84" fill="#c0c0c0"/>
<rect x="61" y="514" width="1" height="88" fill="#c0c0c0"/>
<rect x="69" y="509" width="1" height="93" fill="#c0c0c0"/>
<rect x="77" y="509" width="1" height="93" fill="#c0c0c0"/>
<rect x="85" y="514" width="1" height="88" fill="#c0c0c0"/>
<rect x="93" y="518" width="1" height="84" fill="#c0c0c0"/>
<rect x="101" y="521" width="1" height="81" fill="#c0c0c0"/>
<rect x="109" y="525" width="1" height="77" fill="#c0c0c0"/>
<rect x="117" y="528" width="1" height="74" fill="#c0c0c0"/>
<rect x="125" y="532" width="1" height="70" fill="#c0c0c0"/>
<rect x="133" y="527" width="1" height="75" fill="#c0c0c0"/>
<rect x="141" y="527" width="1" height="75" fill="#c0c0c0"/>
<rect x="149" y="535" width="1" height="67" fill="#c0c0c0"/>
<rect x="157" y="542" width="1" height="60" fill="#c0c0c0"/>
<rect x="165" y="546" width="1" height="56" fill="#c0c0c0"/>
<rect x="173" y="548" width="1" height="54" fill="#c0c0c0"/>
<rect x="181" y="553" width="1" height="49" fill="#c0c0c0"/>
<rect x="189" y="556" width="1" height="46" fill="#c0c0c0"/>
<rect x="197" y="558" width="1" height="44" fill="#c0c0c0"/>
<rect x="205" y="559" width="1" height="43" fill="#c0c0c0"/>
<rect x="213" y="561" width="1" height="41" fill="#c0c0c0"/>
<rect x="221" y="563" width="1" height="39" fill="#c0c0c0"/>
<rect x="229" y="567" width="1" height="35" fill="#c0c0c0"/>
<rect x="237" y="571" width="1" height="31" fill="#c0c0c0"/>
<rect x="245" y="572" width="1" height="30" fill="#c0c0c0"/>
<rect x="253" y="573" width="1" height="29" fill="#c0c0c0"/>
<rect x="261" y="574" width="1" height="28" fill="#c0c0c0"/>
<rect x="269" y="576" width="1" height="26" fill="#c0c0c0"/>
<rect x="277" y="577" width="1" height="25" fill="#c0c0c0"/>
<rect x="285" y="575" width="1" height="27" fill="#c0c0c0"/>
<rect x="293" y="572" width="1" height="30" fill="#c0c0c0"/>
<rect x="301" y="572" width="1" height="30" fill="#c0c0c0"/>
<rect x="309" y="573" width="1" height="29" fill="#c0c0c0"/>
<rect x="317" y="574" width="1" height="28" fill="#c0c0c0"/>
<rect x="325" y="574" width="1" height="28" fill="#c0c0c0"/>
<rect x="333" y="573" width="1" height="29" fill="#c0c0c0"/>
<rect x="341" y="574" width="1" height="28" fill="#c0c0c0"/>
<rect x="349" y="576" width="1" height="26" fill="#c0c0c0"/>
<rect x="357" y="575" width="1" height="27" fill="#c0c0c0"/>
<rect x="365" y="576" width="1" height="26" fill="#c0c0c0"/>
<rect x="373" y="575" width="1" height="27" fill="#c0c0c0"/>
<rect x="381" y="574" width="1" height="28" fill="#c0c0c0"/>
<rect x="389" y="572" width="1" height="30" fill="#c0c0c0"/>
<rect x="397" y="567" width="1" height="35" fill="#c0c0c0"/>
<rect x="405" y="563" width="1" height="39" fill="#c0c0c0"/>
<rect x="413" y="560" width="1" height="42" fill="#c0c0c0"/>
<rect x="421" y="556" width="1" height="46" fill="#c0c0c0"/>
<rect x="429" y="554" width="1" height="48" fill="#c0c0c0"/>
<rect x="437" y="552" width="1" height="50" fill="#c0c0c0"/>
<rect x="445" y="548" width="1" height="54" fill="#c0c0c0"/>
<rect x="453" y="545" width="1" height="57" fill="#c0c0c0"/>
<rect x="461" y="540" width="1" height="62" fill="#c0c0c0"/>
<rect x="469" y="538" width="1" height="64" fill="#c0c0c0"/>
<rect x="477" y="534" width="1" height="68" fill="#c0c0c0"/>
<rect x="485" y="529" width="1" height="73" fill="#c0c0c0"/>
<rect x="493" y="523" width="1" height="79" fill="#c0c0c0"/>
<rect x="501" y="522" width="1" height="80" fill="#c0c0c0"/>
<rect x="509" y="520" width="1" height="82" fill="#c0c0c0"/>
<rect x="517" y="523" width="1" height="79" fill="#c0c0c0"/>
<rect x="525" y="525" width="1" height="77" fill="#c0c0c0"/>
<rect x="533" y="528" width="1" height="74" fill="#c0c0c0"/>
<rect x="541" y="532" width="1" height="70" fill="#c0c0c0"/>
<rect x="549" y="535" width="1" height="67" fill="#c0c0c0"/>
<rect x="557" y="539" width="1" height="63" fill="#c0c0c0"/>
<rect x="565" y="540" width="1" height="62" fill="#c0c0c0"/>
<rect x="573" y="544" width="1" height="58" fill="#c0c0c0"/>
<rect x="581" y="545" width="1" height="57" fill="#c0c0c0"/>
<rect x="589" y="544" width="1" height="58" fill="#c0c0c0"/>
<rect x="597" y="542" width="1" height="60" fill="#c0c0c0"/>
<rect x="605" y="541" width="1" height="61" fill="#c0c0c0"/>
<rect x="613" y="541" width="1" height="61" fill="#c0c0c0"/>
<rect x="621" y="540" width="1" height="62" fill="#c0c0c0"/>
<rect x="629" y="540" width="1" height="62" fill="#c0c0c0"/>
<rect x="637" y="542" width="1" height="60" fill="#c0c0c0"/>
<rect x="645" y="543" width="1" height="59" fill="#c0c0c0"/>
<rect x="653" y="545" width="1" height="57" fill="#c0c0c0"/>
<rect x="661" y="554" width="1" height="48" fill="#c0c0c0"/>
<rect x="669" y="564" width="1" height="38" fill="#c0c0c0"/>
<rect x="677" y="568" width="1" height="34" fill="#c0c0c0"/>
<rect x="685" y="571" width="1" height="31" fill="#c0c0c0"/>
<rect x="693" y="571" width="1" height="31" fill="#c0c0c0"/>
<rect x="701" y="570" width="1" height="32" fill="#c0c0c0"/>
<rect x="709" y="573" width="1" height="29" fill="#c0c0c0"/>
<rect x="717" y="573" width="1" height="29" fill="#c0c0c0"/>
<rect x="725" y="574" width="1" height="28" fill="#c0c0c0"/>
<rect x="733" y="575" width="1" height="27" fill="#c0c0c0"/>
<rect x="741" y="574" width="1" height="28" fill="#c0c0c0"/>
<rect x="749" y="574" width="1" height="28" fill="#c0c0c0"/>
<rect x="757" y="574" width="1" height="28" fill="#c0c0c0"/>
<rect x="765" y="573" width="1" height="29" fill="#c0c0c0"/>
<rect x="773" y="574" width="1" height="28" fill="#c0c0c0"/>
<rect x="781" y="574" width="1" height="28" fill="#c0c0c0"/>
<rect x="789" y="577" width="1" height="25" fill="#c0c0c0"/>
<rect x="797" y="577" width="1" height="25" fill="#c0c0c0"/>
<rect x="805" y="578" width="1" height="24" fill="#c0c0c0"/>
<rect x="813" y="578" width="1" height="24" fill="#c0c0c0"/>
<rect x="821" y="581" width="1" height="21" fill="#c0c0c0"/>
<rect x="829" y="583" width="1" height="19" fill="#c0c0c0"/>
<rect x="837" y="587" width="1" height="15" fill="#c0c0c0"/>
<rect x="845" y="591" width="1" height="11" fill="#c0c0c0"/>
<rect x="853" y="599" width="1" height="3" fill="#c0c0c0"/>
<rect x="861" y="601" width="1" height="4" fill="#c0c0c0"/>
<rect x="869" y="601" width="1" height="8" fill="#c0c0c0"/>
<rect x="877" y="601" width="1" height="7" fill="#c0c0c0"/>
<rect x="885" y="601" width="1" height="5" fill="#c0c0c0"/>
<rect x="893" y="601" width="1" height="3" fill="#c0c0c0"/>
<rect x="901" y="601" width="1" height="1" fill="#c0c0c0"/>
<rect x="909" y="601" width="1" height="1" fill="#c0c0c0"/>
<rect x="917" y="601" width="1" height="1" fill="#c0c0c0"/>
<rect x="925" y="601" width="1" height="1" fill="#c0c0c0"/>
<rect x="933" y="601" width="1" height="1" fill="#c0c0c0"/>
<rect x="941" y="595" width="1" height="7" fill="#c0c0c0"/>
<rect x="949" y="589" width="1" height="13" fill="#c0c0c0"/>
<rect x="957" y="584" width="1" height="18" fill="#c0c0c0"/>
<rect x="965" y="580" width="1" height="22" fill="#c0c0c0"/>
<rect x="973" y="577" width="1" height="25" fill="#c0c0c0"/>
<rect x="981" y="575" width="1" height="27" fill="#c0c0c0"/>
<rect x="989" y="576" width="1" height="26" fill="#c0c0c0"/>
<rect x="997" y="574" width="1" height="28" fill="#c0c0c0"/>
<rect x="1005" y="573" width="1" height="29" fill="#c0c0c0"/>
<rect x="1013" y="572" width="1" height="30" fill="#c0c0c0"/>
<rect x="1021" y="571" width="1" height="31" fill="#c0c0c0"/>
<rect x="1029" y="569" width="1" height="33" fill="#c0c0c0"/>
<rect x="1037" y="568" width="1" height="34" fill="#c0c0c0"/>
<rect x="1045" y="565" width="1" height="37" fill="#c0c0c0"/>
<rect x="1053" y="562" width="1" height="40" fill="#c0c0c0"/>
<rect x="1061" y="559" width="1" height="43" fill="#c0c0c0"/>
<rect x="1069" y="557" width="1" height="45" fill="#c0c0c0"/>
<rect x="1077" y="561" width="1" height="41" fill="#c0c0c0"/>
<rect x="1085" y="563" width="1" height="39" fill="#c0c0c0"/>
<rect x="1093" y="565" width="1" height="37" fill="#c0c0c0"/>
<rect x="1101" y="565" width="1" height="37" fill="#c0c0c0"/>
<rect x="1109" y="568" width="1" height="34" fill="#c0c0c0"/>
<rect x="1117" y="570" width="1" height="32" fill="#c0c0c0"/>
<rect x="1125" y="571" width="1" height="31" fill="#c0c0c0"/>
<rect x="1133" y="573" width="1" height="29" fill="#c0c0c0"/>
<rect x="1141" y="573" width="1" height="29" fill="#c0c0c0"/>
<rect x="1149" y="573" width="1" height="29" fill="#c0c0c0"/>
<rect x="1157" y="573" width="1" height="29" fill="#c0c0c0"/>
<rect x="1165" y="571" width="1" height="31" fill="#c0c0c0"/>
<rect x="1173" y="569" width="1" height="33" fill="#c0c0c0"/>
<rect x="1181" y="564" width="1" height="38" fill="#c0c0c0"/>
<rect x="1189" y="561" width="1" height="41" fill="#c0c0c0"/>
<rect x="1197" y="559" width="1" height="43" fill="#c0c0c0"/>
<rect x="1205" y="554" width="1" height="48" fill="#c0c0c0"/>
<rect x="1213" y="551" width="1" height="51" fill="#c0c0c0"/>
<rect x="1221" y="550" width="1" height="52" fill="#c0c0c0"/>
<rect x="1229" y="553" width="1" height="49" fill="#c0c0c0"/>
<rect x="1237" y="559" width="1" height="43" fill="#c0c0c0"/>
<rect x="1245" y="564" width="1" height="38" fill="#c0c0c0"/>
<rect x="1253" y="567" width="1" height="35" fill="#c0c0c0"/>
<rect x="1261" y="570" width="1" height="32" fill="#c0c0c0"/>
<rect x="1269" y="576" width="1" height="26" fill="#c0c0c0"/>
<rect x="1277" y="579" width="1" height="23" fill="#c0c0c0"/>
<rect x="1285" y="582" width="1" height="20" fill="#c0c0c0"/>
<rect x="1293" y="583" width="1" height="19" fill="#c0c0c0"/>
<rect x="1301" y="585" width="1" height="17" fill="#c0c0c0"/>
<rect x="1309" y="587" width="1" height="15" fill="#c0c0c0"/>
<rect x="1317" y="589" width="1" height="13" fill="#c0c0c0"/>
<rect x="1325" y="591" width="1" height="11" fill="#c0c0c0"/>
<rect x="1333" y="590" width="1" height="12" fill="#c0c0c0"/>
<rect x="1341" y="589" width="1" height="13" fill="#c0c0c0"/>
<rect x="1349" y="589" width="1" height="13" fill="#c0c0c0"/>
<rect x="1357" y="591" width="1" height="11" fill="#c0c0c0"/>
<rect x="1365" y="593" width="1" height="9" fill="#c0c0c0"/>
<rect x="1373" y="596" width="1" height="6" fill="#c0c0c0"/>
<rect x="1381" y="601" width="1" height="1" fill="#c0c0c0"/>
<rect x="1389" y="601" width="1" height="9" fill="#c0c0c0"/>
<rect x="1397" y="601" width="1" height="15" fill="#c0c0c0"/>
<rect x="1405" y="601" width="1" height="21" fill="#c0c0c0"/>
<rect x="1413" y="601" width="1" height="24" fill="#c0c0c0"/>
<rect x="1421" y="601" width="1" height="24" fill="#c0c0c0"/>
<rect x="1429" y="601" width="1" height="24" fill="#c0c0c0"/>
<rect x="1437" y="601" width="1" height="24" fill="#c0c0c0"/>
<rect x="1445" y="601" width="1" height="23" fill="#c0c0c0"/>
<rect x="1453" y="601" width="1" height="25" fill="#c0c0c0"/>
<rect x="1461" y="601" width="1" height="28" fill="#c0c0c0"/>
<rect x="1469" y="601" width="1" height="31" fill="#c0c0c0"/>
<rect x="1477" y="601" width="1" height="31" fill="#c0c0c0"/>
<rect x="1485" y="601" width="1" height="29" fill="#c0c0c0"/>
<rect x="1493" y="601" width="1" height="23" fill="#c0c0c0"/>
<rect x="1501" y="601" width="1" height="17" fill="#c0c0c0"/>
<rect x="1509" y="601" width="1" height="14" fill="#c0c0c0"/>
<rect x="1517" y="601" width="1" height="10" fill="#c0c0c0"/>
<rect x="1525" y="601" width="1" height="4" fill="#c0c0c0"/>
<rect x="1533" y="601" width="1" height="2" fill="#c0c0c0"/>
<rect x="1541" y="599" width="1" height="3" fill="#c0c0c0"/>
<rect x="1549" y="596" width="1" height="6" fill="#c0c0c0"/>
<rect x="1557" y="596" width="1" height="6" fill="#c0c0c0"/>
<rect x="1565" y="593" width="1" height="9" fill="#c0c0c0"/>
<rect x="1573" y="592" width="1" height="10" fill="#c0c0c0"/>
<rect x="1581" y="591" width="1" height="11" fill="#c0c0c0"/>
<rect x="1589" y="590" width="1" height="12" fill="#c0c0c0"/>
<rect x="1597" y="590" width="1" height="12" fill="#c0c0c0"/>
<rect x="1605" y="590" width="1" height="12" fill="#c0c0c0"/>
<rect x="1613" y="589" width="1" height="13" fill="#c0c0c0"/>
<rect x="1621" y="587" width="1" height="15" fill="#c0c0c0"/>
<rect x="1629" y="584" width="1" height="18" fill="#c0c0c0"/>
<rect x="1637" y="582" width="1" height="20" fill="#c0c0c0"/>
<rect x="1645" y="579" width="1" height="23" fill="#c0c0c0"/>
<rect x="1653" y="577" width="1" height="25" fill="#c0c0c0"/>
<rect x="1661" y="576" width="1" height="26" fill="#c0c0c0"/>
<polyline points="3.6,548.5 12.7,548.5 21.8,547.0 30.0,546.1 39.0,544.8 47.2,541.6 54.5,537.9 59.9,534.3 69.0,528.0 76.3,524.9 83.5,520.7 92.6,519.2 99.9,516.2 109.0,515.6 118.0,516.2 127.1,517.6 134.4,519.2 143.5,522.2 150.7,525.2 159.8,528.3 167.1,530.7 174.3,533.4 181.6,536.1 190.7,540.3 197.9,542.1 205.2,545.6 214.3,550.3 221.5,553.0 228.8,555.7 237.9,558.5 245.1,561.6 253.3,563.0 261.5,565.2 268.7,567.0 277.8,568.8 286.0,571.2 290.0,572.5 297.3,572.5 300.9,573.4 399.0,573.4 406.2,571.5 413.5,570.3 418.9,569.2 424.4,567.0 429.8,565.2 437.1,563.4 443.4,561.6 449.8,558.5 455.2,556.1 460.7,553.4 467.0,551.6 473.4,548.8 478.9,546.1 485.2,543.4 490.7,540.7 497.0,538.3 502.5,535.8 509.7,532.1 515.2,530.3 521.5,528.5 526.1,527.4 533.3,526.5 540.6,525.6 549.7,525.6 556.9,526.5 562.4,527.4 569.6,529.4 575.1,530.7 580.0,532.1 580.0,533.4 586.4,535.2 592.7,537.0 598.2,538.3 605.4,539.4 610.9,540.3 621.8,541.2 654.5,541.2 659.9,542.5 665.3,543.4 670.8,545.6 676.2,547.9 682.6,550.3 689.0,552.1 694.4,554.7 700.8,557.6 707.1,560.3 712.6,562.5 718.9,565.7 725.3,568.5 730.7,569.4 736.2,570.3 743.4,571.5 750.7,572.5 767.0,572.5 772.5,573.4 799.7,573.4 803.4,574.3 821.5,575.2 827.0,576.1 832.4,577.4 839.7,578.4 845.1,580.3 850.6,581.2 856.0,583.0 861.5,586.1 870.0,589.3 873.6,591.5 880.0,594.2 886.3,596.6 892.7,599.1 899.1,600.6 904.5,602.4 910.9,603.3 917.2,604.2 923.6,605.5 928.1,605.1 934.5,604.2 940.8,603.3 947.2,601.5 952.6,599.7 959.0,597.9 964.4,595.5 970.8,593.3 976.2,591.5 982.6,588.8 988.0,586.4 994.4,584.6 1000.7,582.1 1006.2,580.1 1012.5,577.4 1018.9,576.1 1024.3,574.3 1030.7,573.4 1037.1,572.5 1043.4,571.5 1049.8,570.3 1054.3,569.2 1060.7,567.4 1067.0,566.5 1072.5,565.6 1078.8,564.6 1085.2,563.4 1091.5,562.5 1120.6,562.5 1126.9,563.4 1132.4,565.2 1138.7,566.5 1144.2,567.4 1150.6,568.3 1156.9,569.4 1160.0,569.7 1165.4,570.6 1180.0,570.3 1187.2,569.4 1192.7,569.2 1198.1,567.9 1204.5,565.6 1210.8,563.7 1216.3,561.9 1222.6,560.1 1228.1,558.3 1234.5,557.6 1239.9,557.4 1245.3,556.5 1252.6,556.5 1259.0,557.0 1264.4,558.3 1270.8,559.7 1277.1,562.1 1283.5,564.8 1288.9,567.4 1295.3,569.7 1300.7,572.5 1307.1,575.5 1312.5,577.4 1318.9,579.4 1325.2,581.5 1330.7,583.3 1337.0,584.6 1342.5,585.5 1348.9,586.4 1355.2,587.3 1360.7,587.5 1367.0,588.4 1372.5,590.2 1378.8,591.5 1385.2,592.4 1390.6,594.6 1396.1,597.0 1403.3,599.3 1408.8,602.4 1414.2,605.7 1420.6,608.8 1426.0,611.9 1432.4,614.2 1437.8,616.6 1444.2,619.3 1450.0,620.9 1450.4,621.5 1456.8,623.3 1463.1,624.6 1469.5,626.6 1475.8,627.5 1503.1,627.5 1509.4,626.0 1515.8,624.6 1522.1,623.3 1528.5,621.1 1534.9,618.4 1541.2,615.7 1546.7,612.4 1553.0,609.3 1559.4,607.0 1564.8,604.6 1571.2,602.4 1576.6,601.0 1582.1,598.2 1588.4,595.5 1594.8,594.2 1601.1,593.3 1606.6,592.4 1612.9,591.5 1619.3,590.6 1624.7,590.1 1631.1,589.2 1636.5,588.2 1642.9,587.0 1648.4,585.2 1654.7,584.3 1661.1,583.3" fill="none" stroke="#ff0000" stroke-width="1" stroke-dasharray="3 3"/>
<rect x="1683" y="502" width="1" height="1" fill="#000"/>
<rect x="1683" y="601" width="2" height="1" fill="#000"/>
<rect x="1683" y="638" width="1" height="1" fill="#000"/>
</g>
<text transform="translate(1.6 513) scale(1.17 1)" font-size="9.2" fill="#000" text-anchor="start" stroke="#000" stroke-width="0.12">MACD</text>
<text transform="translate(30.2 513) scale(0.99 1)" font-size="9.2" fill="#000" text-anchor="start" stroke="#000" stroke-width="0.12">(12,26,9) 0.5677 0.3976</text>
<text transform="translate(1686 511) scale(0.97 1)" font-size="9.2" fill="#000" text-anchor="start" stroke="#000" stroke-width="0.12">2.1772</text>
<text transform="translate(1686 605) scale(0.97 1)" font-size="9.2" fill="#000" text-anchor="start" stroke="#000" stroke-width="0.12">0.00</text>
<text transform="translate(1686 636) scale(0.97 1)" font-size="9.2" fill="#000" text-anchor="start" stroke="#000" stroke-width="0.12">-0.819</text>
<g id="rsi" shape-rendering="crispEdges">
<line x1="0" y1="680.5" x2="1682" y2="680.5" stroke="#c0c0c0" stroke-width="1" stroke-dasharray="3 3" stroke-dashoffset="2"/>
<line x1="0" y1="731.5" x2="1682" y2="731.5" stroke="#c0c0c0" stroke-width="1" stroke-dasharray="3 3" stroke-dashoffset="2"/>
<polyline points="-3.0,688.3 5.5,684.5 13.5,683.2 21.5,681.4 29.5,679.4 37.5,679.7 45.5,674.1 53.5,671.5 61.5,668.2 69.5,680.2 77.5,681.4 85.5,682.8 93.5,691.4 101.5,687.1 109.5,689.5 117.5,688.3 125.5,690.5 133.5,678.0 141.5,686.6 149.5,701.5 157.5,699.5 165.5,698.6 173.5,694.3 181.5,699.5 189.5,698.6 197.5,695.5 205.5,695.5 213.5,696.4 221.5,696.4 229.5,701.2 237.5,701.2 245.5,697.2 253.5,696.4 261.5,698.6 269.5,699.5 277.5,696.4 285.5,690.5 293.5,690.5 301.5,688.3 309.5,694.3 317.5,692.3 325.5,695.5 333.5,691.4 341.5,694.3 349.5,697.4 357.5,690.5 365.5,694.3 373.5,690.9 381.5,688.3 389.5,686.2 397.5,677.5 405.5,677.5 413.5,676.3 421.5,672.4 429.5,680.2 437.5,676.3 445.5,672.4 453.5,672.4 461.5,668.2 469.5,669.4 477.5,666.5 485.5,663.4 493.5,661.4 501.5,672.4 509.5,669.4 517.5,683.2 525.5,681.4 533.5,683.2 541.5,688.3 549.5,685.4 557.5,688.3 565.5,685.4 573.5,690.4 581.5,685.4 589.5,681.4 597.5,678.4 605.5,679.7 613.5,679.7 621.5,676.6 629.5,677.5 637.5,680.6 645.5,679.4 653.5,679.4 661.5,706.8 669.5,710.6 677.5,702.0 685.5,698.1 693.5,693.5 701.5,692.3 709.5,700.3 717.5,694.7 725.5,695.5 733.5,696.5 741.5,692.3 749.5,691.4 757.5,692.3 765.5,690.5 773.5,688.3 781.5,693.5 789.5,701.2 797.5,695.5 805.5,695.5 813.5,694.3 821.5,701.2 829.5,700.3 837.5,708.9 845.5,712.3 853.5,722.3 861.5,725.5 869.5,718.8 877.5,706.8 885.5,703.4 893.5,700.7 901.5,700.7 909.5,705.5 917.5,710.6 925.5,707.2 933.5,701.2 941.5,688.3 949.5,687.1 957.5,687.1 965.5,686.2 973.5,686.2 981.5,686.2 989.5,696.4 997.5,688.3 1005.5,690.5 1013.5,688.3 1021.5,687.1 1029.5,683.2 1037.5,684.5 1045.5,679.4 1053.5,677.2 1061.5,675.4 1069.5,674.6 1077.5,697.4 1085.5,694.3 1093.5,691.4 1101.5,690.5 1109.5,696.4 1117.5,695.2 1125.5,691.4 1133.5,695.2 1141.5,691.4 1149.5,690.0 1157.5,688.0 1165.5,683.7 1173.5,679.4 1181.5,675.4 1189.5,674.2 1197.5,677.5 1205.5,670.3 1213.5,677.5 1221.5,676.3 1229.5,689.2 1237.5,701.5 1245.5,701.5 1253.5,697.2 1261.5,698.1 1269.5,707.5 1277.5,702.4 1285.5,705.8 1293.5,697.2 1301.5,703.4 1309.5,704.6 1317.5,705.5 1325.5,705.5 1333.5,698.1 1341.5,694.3 1349.5,700.3 1357.5,703.7 1365.5,708.0 1373.5,711.1 1381.5,723.5 1389.5,726.4 1397.5,729.5 1405.5,729.5 1413.5,728.3 1421.5,714.4 1429.5,717.5 1437.5,716.1 1445.5,714.4 1453.5,723.5 1461.5,726.4 1469.5,729.5 1477.5,720.0 1485.5,711.5 1493.5,702.4 1501.5,701.2 1509.5,703.4 1517.5,700.3 1525.5,695.5 1533.5,700.3 1541.5,693.5 1549.5,697.2 1557.5,703.4 1565.5,695.5 1573.5,700.3 1581.5,700.3 1589.5,698.3 1597.5,700.3 1605.5,700.3 1613.5,695.5 1621.5,694.3 1629.5,689.7 1637.5,688.3 1645.5,685.4 1653.5,684.5 1661.5,688.6" fill="none" stroke="#1e90ff" stroke-width="1"/>
<rect x="1683" y="643" width="1" height="1" fill="#000"/>
<rect x="1683" y="680" width="2" height="1" fill="#000"/>
<rect x="1683" y="731" width="2" height="1" fill="#000"/>
<rect x="1683" y="768" width="1" height="1" fill="#000"/>
</g>
<text transform="translate(1.4 654) scale(1.16 1)" font-size="9.2" fill="#000" text-anchor="start" stroke="#000" stroke-width="0.12">RSI</text>
<text transform="translate(16.6 654) scale(0.985 1)" font-size="9.2" fill="#000" text-anchor="start" stroke="#000" stroke-width="0.12">(14) 63.1022</text>
<text transform="translate(1686 652) scale(0.97 1)" font-size="9.2" fill="#000" text-anchor="start" stroke="#000" stroke-width="0.12">100</text>
<text transform="translate(1686 684) scale(0.97 1)" font-size="9.2" fill="#000" text-anchor="start" stroke="#000" stroke-width="0.12">70</text>
<text transform="translate(1686 735) scale(0.97 1)" font-size="9.2" fill="#000" text-anchor="start" stroke="#000" stroke-width="0.12">30</text>
<text transform="translate(1686 766) scale(0.97 1)" font-size="9.2" fill="#000" text-anchor="start" stroke="#000" stroke-width="0.12">0</text>
<g shape-rendering="crispEdges">
<rect x="-3" y="770" width="1" height="3" fill="#000"/>
<rect x="61" y="770" width="1" height="3" fill="#000"/>
<rect x="125" y="770" width="1" height="3" fill="#000"/>
<rect x="189" y="770" width="1" height="3" fill="#000"/>
<rect x="253" y="770" width="1" height="3" fill="#000"/>
<rect x="317" y="770" width="1" height="3" fill="#000"/>
<rect x="381" y="770" width="1" height="3" fill="#000"/>
<rect x="445" y="770" width="1" height="3" fill="#000"/>
<rect x="509" y="770" width="1" height="3" fill="#000"/>
<rect x="573" y="770" width="1" height="3" fill="#000"/>
<rect x="637" y="770" width="1" height="3" fill="#000"/>
<rect x="701" y="770" width="1" height="3" fill="#000"/>
<rect x="765" y="770" width="1" height="3" fill="#000"/>
<rect x="829" y="770" width="1" height="3" fill="#000"/>
<rect x="893" y="770" width="1" height="3" fill="#000"/>
<rect x="957" y="770" width="1" height="3" fill="#000"/>
<rect x="1021" y="770" width="1" height="3" fill="#000"/>
<rect x="1085" y="770" width="1" height="3" fill="#000"/>
<rect x="1149" y="770" width="1" height="3" fill="#000"/>
<rect x="1213" y="770" width="1" height="3" fill="#000"/>
<rect x="1277" y="770" width="1" height="3" fill="#000"/>
<rect x="1341" y="770" width="1" height="3" fill="#000"/>
<rect x="1405" y="770" width="1" height="3" fill="#000"/>
<rect x="1469" y="770" width="1" height="3" fill="#000"/>
<rect x="1533" y="770" width="1" height="3" fill="#000"/>
<rect x="1597" y="770" width="1" height="3" fill="#000"/>
<rect x="1661" y="770" width="1" height="3" fill="#000"/>
</g>
<text transform="translate(-4 782) scale(1.035 1)" font-size="9.2" fill="#000" text-anchor="start" stroke="#000" stroke-width="0.12">4 May 2020</text>
<text transform="translate(60 782) scale(1.035 1)" font-size="9.2" fill="#000" text-anchor="start" stroke="#000" stroke-width="0.12">5 May 20:00</text>
<text transform="translate(124 782) scale(1.035 1)" font-size="9.2" fill="#000" text-anchor="start" stroke="#000" stroke-width="0.12">7 May 04:00</text>
<text transform="translate(188 782) scale(1.035 1)" font-size="9.2" fill="#000" text-anchor="start" stroke="#000" stroke-width="0.12">8 May 12:00</text>
<text transform="translate(252 782) scale(1.035 1)" font-size="9.2" fill="#000" text-anchor="start" stroke="#000" stroke-width="0.12">11 May 16:00</text>
<text transform="translate(316 782) scale(1.035 1)" font-size="9.2" fill="#000" text-anchor="start" stroke="#000" stroke-width="0.12">13 May 00:00</text>
<text transform="translate(380 782) scale(1.035 1)" font-size="9.2" fill="#000" text-anchor="start" stroke="#000" stroke-width="0.12">14 May 08:00</text>
<text transform="translate(444 782) scale(1.035 1)" font-size="9.2" fill="#000" text-anchor="start" stroke="#000" stroke-width="0.12">15 May 16:00</text>
<text transform="translate(508 782) scale(1.035 1)" font-size="9.2" fill="#000" text-anchor="start" stroke="#000" stroke-width="0.12">18 May 20:00</text>
<text transform="translate(572 782) scale(1.035 1)" font-size="9.2" fill="#000" text-anchor="start" stroke="#000" stroke-width="0.12">20 May 04:00</text>
<text transform="translate(636 782) scale(1.035 1)" font-size="9.2" fill="#000" text-anchor="start" stroke="#000" stroke-width="0.12">21 May 12:00</text>
<text transform="translate(700 782) scale(1.035 1)" font-size="9.2" fill="#000" text-anchor="start" stroke="#000" stroke-width="0.12">22 May 20:00</text>
<text transform="translate(764 782) scale(1.035 1)" font-size="9.2" fill="#000" text-anchor="start" stroke="#000" stroke-width="0.12">26 May 00:00</text>
<text transform="translate(828 782) scale(1.035 1)" font-size="9.2" fill="#000" text-anchor="start" stroke="#000" stroke-width="0.12">27 May 08:00</text>
<text transform="translate(892 782) scale(1.035 1)" font-size="9.2" fill="#000" text-anchor="start" stroke="#000" stroke-width="0.12">28 May 16:00</text>
<text transform="translate(956 782) scale(1.035 1)" font-size="9.2" fill="#000" text-anchor="start" stroke="#000" stroke-width="0.12">31 May 23:00</text>
<text transform="translate(1020 782) scale(1.035 1)" font-size="9.2" fill="#000" text-anchor="start" stroke="#000" stroke-width="0.12">2 Jun 04:00</text>
<text transform="translate(1084 782) scale(1.035 1)" font-size="9.2" fill="#000" text-anchor="start" stroke="#000" stroke-width="0.12">3 Jun 12:00</text>
<text transform="translate(1148 782) scale(1.035 1)" font-size="9.2" fill="#000" text-anchor="start" stroke="#000" stroke-width="0.12">4 Jun 20:00</text>
<text transform="translate(1212 782) scale(1.035 1)" font-size="9.2" fill="#000" text-anchor="start" stroke="#000" stroke-width="0.12">8 Jun 00:00</text>
<text transform="translate(1276 782) scale(1.035 1)" font-size="9.2" fill="#000" text-anchor="start" stroke="#000" stroke-width="0.12">9 Jun 08:00</text>
<text transform="translate(1340 782) scale(1.035 1)" font-size="9.2" fill="#000" text-anchor="start" stroke="#000" stroke-width="0.12">10 Jun 16:00</text>
<text transform="translate(1404 782) scale(1.035 1)" font-size="9.2" fill="#000" text-anchor="start" stroke="#000" stroke-width="0.12">12 Jun 00:00</text>
<text transform="translate(1468 782) scale(1.035 1)" font-size="9.2" fill="#000" text-anchor="start" stroke="#000" stroke-width="0.12">15 Jun 04:00</text>
<text transform="translate(1532 782) scale(1.035 1)" font-size="9.2" fill="#000" text-anchor="start" stroke="#000" stroke-width="0.12">16 Jun 12:00</text>
<text transform="translate(1596 782) scale(1.035 1)" font-size="9.2" fill="#000" text-anchor="start" stroke="#000" stroke-width="0.12">17 Jun 22:00</text>
<text transform="translate(1660 782) scale(1.035 1)" font-size="9.2" fill="#000" text-anchor="start" stroke="#000" stroke-width="0.12">19 Jun 00:00</text>
<rect x="0" y="790" width="1715" height="1" fill="#e3e3e3" shape-rendering="crispEdges"/>
<rect x="77" y="792" width="1638" height="1" fill="#000" shape-rendering="crispEdges"/>
</svg>
</body>
</html>
